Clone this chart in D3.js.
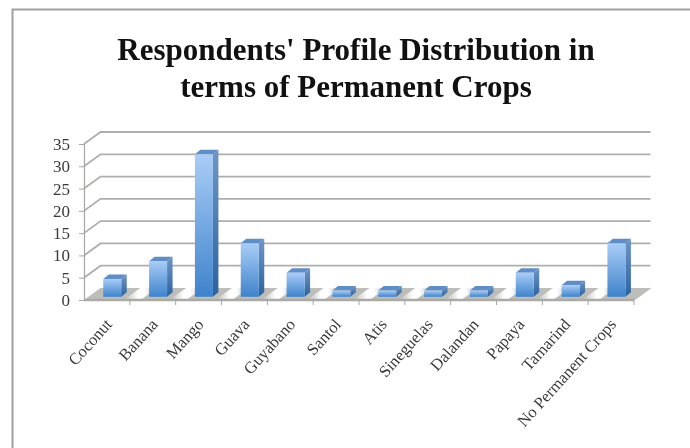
<!DOCTYPE html>
<html><head><meta charset="utf-8">
<script src="https://cdn.jsdelivr.net/npm/d3@7"></script>
<style>
html,body{margin:0;padding:0;background:#fff}
svg{display:block;filter:blur(0.55px)}
text{font-family:"Liberation Serif",serif}
</style></head><body><svg id="c" width="690" height="448"></svg>
<script>
const titleLines = ["Respondents' Profile Distribution in","terms of Permanent Crops"];
const categories = ["Coconut","Banana","Mango","Guava","Guyabano","Santol","Atis","Sineguelas","Dalandan","Papaya","Tamarind","No Permanent Crops"];
const values = [4,8,32,12,5.4,1.4,1.4,1.4,1.4,5.4,2.6,12];
const yTicks = [0,5,10,15,20,25,30,35];

const svg = d3.select("#c");
const defs = svg.append("defs");
function grad(id, stops, x2, y2){
  const g = defs.append("linearGradient").attr("id",id).attr("x1",0).attr("y1",0).attr("x2",x2).attr("y2",y2);
  stops.forEach(s=>g.append("stop").attr("offset",s[0]).attr("stop-color",s[1]));
}
grad("front",[[0,"#a9cdf7"],[1,"#3f83cb"]],0,1);
grad("side",[[0,"#6f95c6"],[1,"#2c639f"]],0,1);
grad("gap",[[0,"#bdbdb9"],[0.4,"#ffffff"],[0.6,"#ffffff"],[1,"#bdbdb9"]],1,0);

// chart frame
svg.append("path").attr("d","M12.5,448V9.5H690").attr("fill","none").attr("stroke","#a0a0a0").attr("stroke-width",2);

// title
svg.append("g").selectAll("text").data(titleLines).join("text")
  .attr("x",356).attr("y",(d,i)=>60+i*37).attr("text-anchor","middle")
  .attr("font-size",31).attr("font-weight","bold").attr("fill","#111").text(d=>d);

const margin = {left:84,right:634,bottom:300,top:144};
const dx = 16.5, dy = -12;
const x = d3.scaleBand().domain(categories).range([margin.left,margin.right]);
const y = d3.scaleLinear().domain([0,35]).range([margin.bottom,margin.top]);

// gridlines on side and back wall
const grid = svg.append("g").attr("fill","none").attr("stroke","#aeaeab").attr("stroke-width",1.8);
grid.selectAll("path").data(yTicks.slice(1)).join("path")
  .attr("d",v=>`M${margin.left},${y(v)}L${margin.left+dx},${y(v)+dy}H${margin.right+dx}`);

// floor
const pt = (px,py)=>`${px},${py}`;
svg.append("path").attr("fill","#bdbdb9")
  .attr("d",`M${pt(margin.left,y(0))}L${pt(margin.left+dx,y(0)+dy)}H${margin.right+dx}L${pt(margin.right,y(0))}Z`);
const barW = 18, sideW = 5.5, sideH = 4.5, barInset = 0.42;
const frontBase = y(0)-3.2;
// light diagonal stripes on floor between bars
svg.append("g").selectAll("path").data(categories.slice(0,-1)).join("path")
  .attr("fill","url(#gap)")
  .attr("d",c=>{
    const x0 = x(c)+x.bandwidth()-5;
    return `M${pt(x0,y(0)-1)}L${pt(x0+dx-1,y(0)+dy)}h17L${pt(x0+17,y(0)-1)}Z`;
  });
// floor front edge
svg.append("path").attr("stroke","#aaaaa7").attr("stroke-width",2.4).attr("fill","none")
  .attr("d",`M${margin.left},${y(0)}H${margin.right}`);
svg.append("path").attr("stroke","#bdbdba").attr("fill","none").attr("stroke-width",1.4).attr("d",`M${margin.right},${y(0)}l${dx},${dy}`);

// bars
const bars = svg.append("g").selectAll("g").data(categories.map((c,i)=>({c,v:values[i]}))).join("g");
const left = d=>x(d.c)+x.bandwidth()*barInset;
const barH = d=>y(0)-y(d.v);
bars.append("path").attr("fill","url(#side)")
  .attr("d",d=>{const r=left(d)+barW,t=frontBase-barH(d);return `M${pt(r,t)}l${sideW},${-sideH}V${frontBase-sideH}l${-sideW},${sideH}Z`;});
bars.append("path").attr("fill","#5f8dc6")
  .attr("d",d=>{const l=left(d),t=frontBase-barH(d);return `M${pt(l,t)}l${sideW},${-sideH}h${barW}l${-sideW},${sideH}Z`;});
bars.append("rect").attr("fill","url(#front)")
  .attr("x",left).attr("y",d=>frontBase-barH(d)).attr("width",barW).attr("height",barH);

// y axis
const yAxis = svg.append("g").attr("transform",`translate(${margin.left},0)`)
  .call(d3.axisLeft(y).tickValues(yTicks).tickSize(5).tickPadding(9));
yAxis.select(".domain").attr("stroke","#a6a6a4").attr("stroke-width",1.2);
yAxis.selectAll(".tick line").attr("stroke","#a6a6a4");
yAxis.selectAll("text").attr("font-size",17).attr("fill","#3a3a3a").style("font-family",'"Liberation Serif",serif');

// x axis
const xAxis = svg.append("g").attr("transform",`translate(0,${margin.bottom})`)
  .call(d3.axisBottom(x).tickSize(0).tickFormat(""));
xAxis.select(".domain").remove();
svg.append("g").attr("stroke","#a6a6a4").selectAll("line").data(categories).join("line")
  .attr("x1",c=>x(c)+x.bandwidth()).attr("x2",c=>x(c)+x.bandwidth())
  .attr("y1",y(0)).attr("y2",y(0)+5);
svg.append("g").selectAll("text").data(categories).join("text")
  .attr("text-anchor","end").attr("font-size",16.5).attr("fill","#3a3a3a")
  .attr("transform",c=>`translate(${x(c)+x.bandwidth()/2+6},${y(0)+25}) rotate(-48)`)
  .text(c=>c);
</script></body></html>
